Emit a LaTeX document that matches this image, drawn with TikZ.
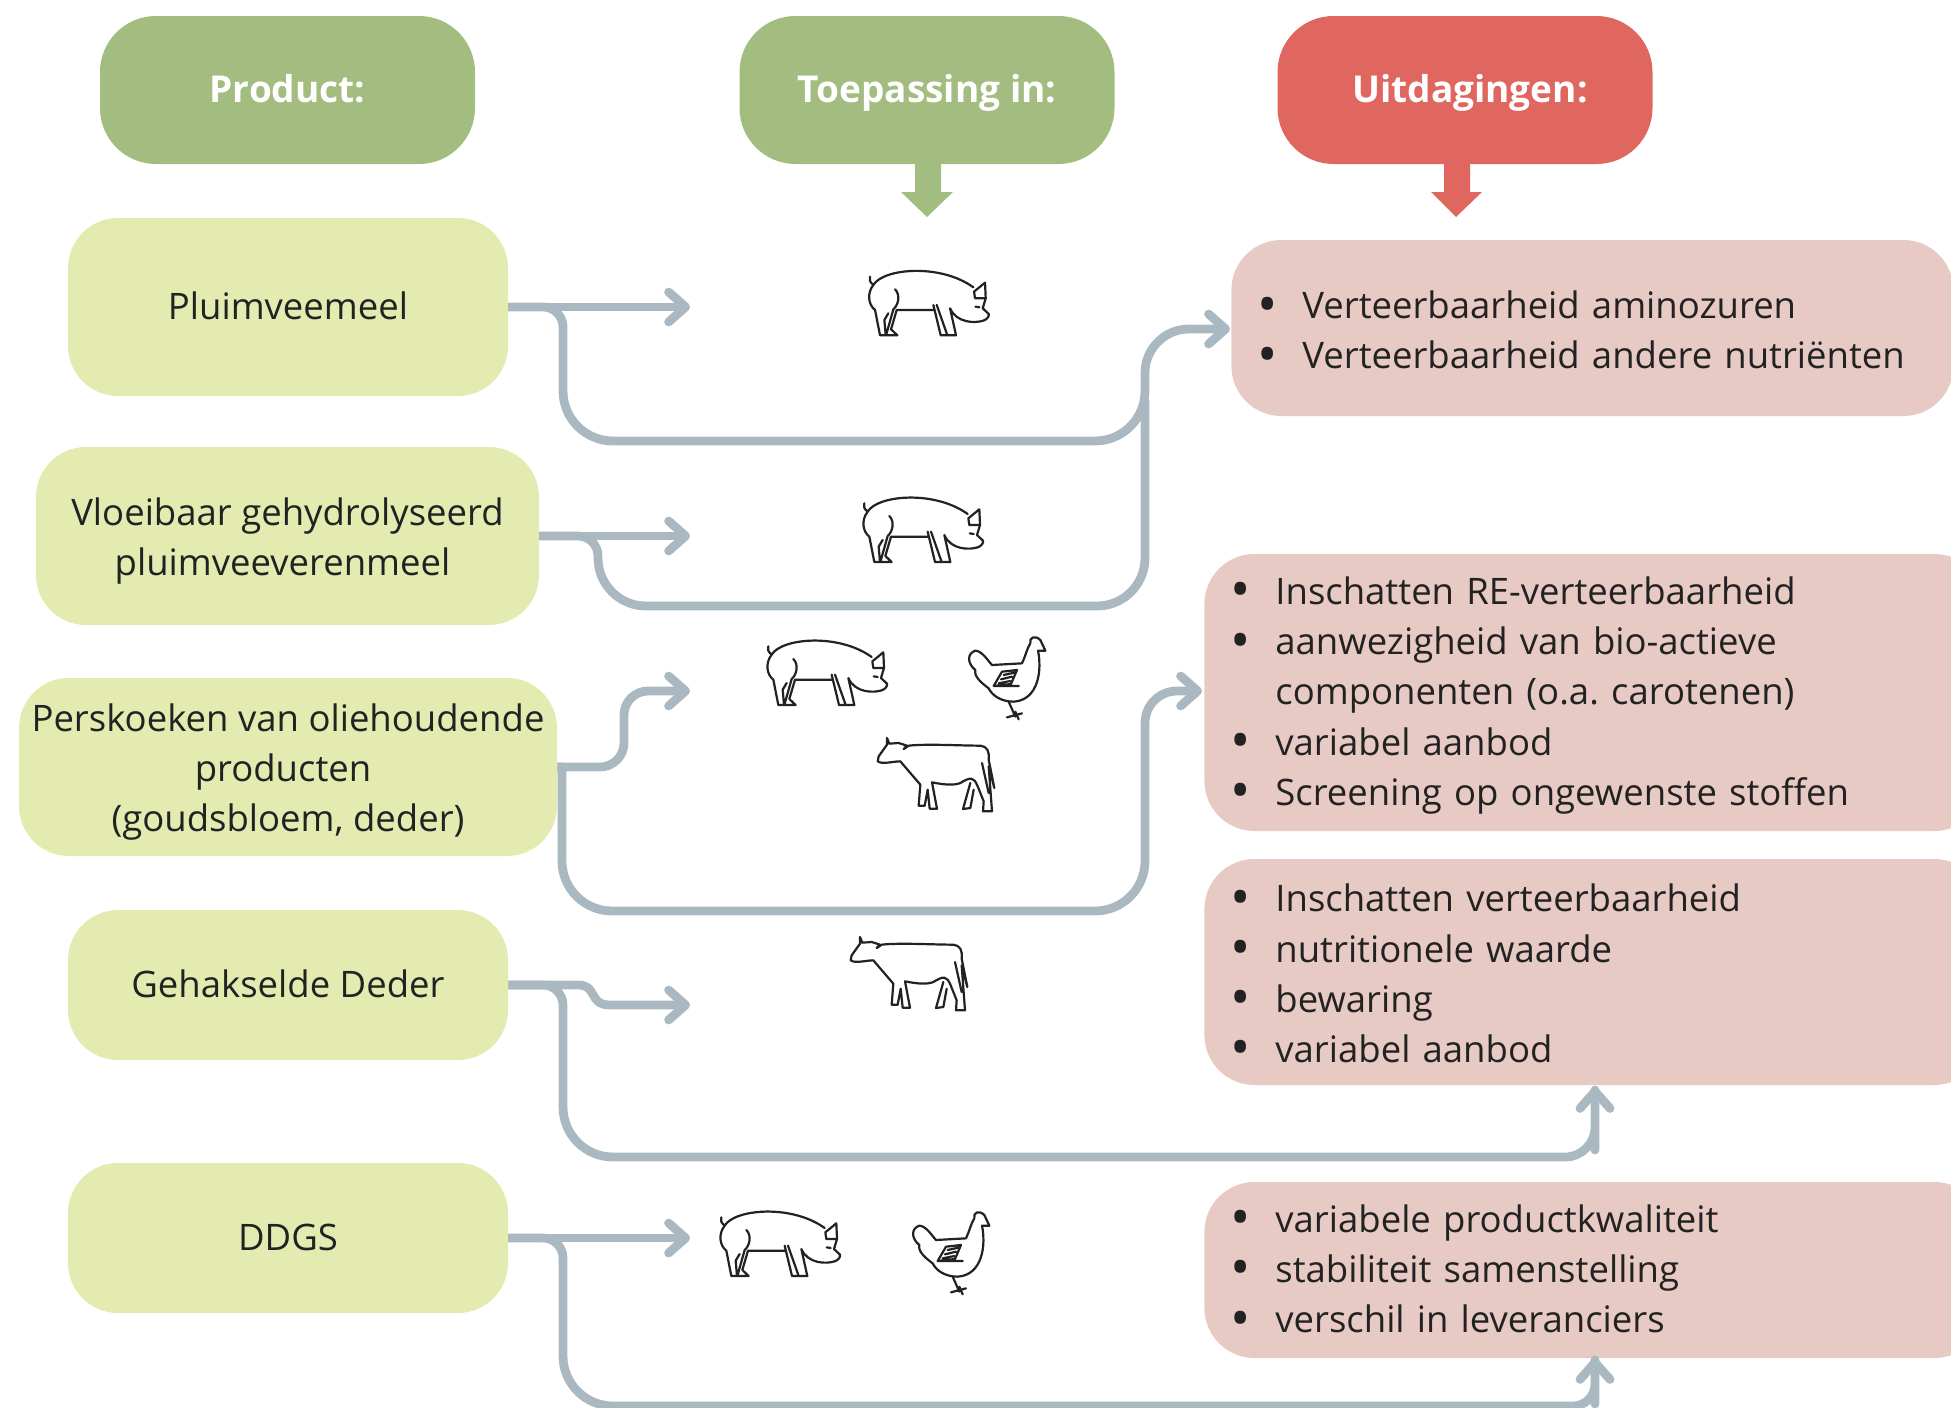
\documentclass[tikz,border=0pt]{standalone}
\usepackage{fontspec}
\setmainfont{Open Sans}
\usetikzlibrary{arrows.meta}
\definecolor{hgreen}{HTML}{A3BC80}
\definecolor{hred}{HTML}{E0675F}
\definecolor{lgreen}{HTML}{E4EBB0}
\definecolor{lred}{HTML}{E8CAC5}
\definecolor{conncol}{HTML}{A9B8C1}
\definecolor{inkcol}{HTML}{222222}
\newcommand{\mystrut}{\rule[-6.3pt]{0pt}{25pt}}
\newcommand{\bul}{\makebox[25.5pt][l]{\makebox[16pt][c]{\fontsize{27}{25}\selectfont\raisebox{-2.2pt}{\textbullet}}}}
\newcommand{\bulgap}{\hspace*{25.5pt}}
\tikzset{
  txt/.style={execute at begin node=\mystrut,execute at end node=\mystrut},
  hdr/.style={txt,rounded corners=28pt,minimum width=187.5pt,minimum height=74pt,inner sep=0pt,text=white,
    font=\fontsize{18.5}{25.1}\selectfont\bfseries\frenchspacing,fill=#1},
  prod/.style={txt,rounded corners=25pt,fill=lgreen,inner sep=0pt,align=center,text=inkcol,
    font=\fontsize{18.25}{25.1}\selectfont\frenchspacing},
  chal/.style={txt,rounded corners=25pt,fill=lred,inner xsep=10pt,inner ysep=0pt,align=left,text=inkcol,anchor=west,
    font=\fontsize{18.25}{25.1}\selectfont\frenchspacing},
  conn/.style={draw=conncol,line width=4.4pt,line cap=butt,line join=round},
  arr/.style={conn,-{Straight Barb[length=8.5pt,width=15pt,line width=4.4pt,round]}},
  icon/.style={draw=inkcol,line width=1.1pt,line cap=round,line join=round,x=0.16667pt,y=-0.16667pt},
  pig/.pic={
    \begin{scope}[icon,shift={(-500,-115)}]
      \draw (520,165) .. controls (550,115) and (720,100) .. (820,172)
        (520,165) .. controls (508,155) and (508,150) .. (510,140)
        (520,165) .. controls (500,190) and (505,225) .. (525,240) -- (540,316) -- (592,316) -- (573,298) -- (590,240) -- (702,240)
        (700,225) -- (722,316) -- (768,316) -- (750,235)
        (710,225) -- (742,316)
        (750,235) .. controls (770,280) and (825,280) .. (850,272) .. controls (862,268) and (868,258) .. (866,252) -- (848,235) -- (857,205) -- (855,158) -- (822,185) -- (825,205) -- (857,205)
        (585,178) .. controls (602,195) and (595,225) .. (580,238) -- (558,316)
        (565,250) -- (553,270) -- (557,316)
        (826,230) -- (838,232);
    \end{scope}},
  hen/.pic={
    \begin{scope}[icon,shift={(-683,-48)}]
      \draw (870,70) .. controls (865,52) and (885,45) .. (900,60) -- (915,92) -- (893,92)
        .. controls (905,150) and (895,240) .. (820,245) .. controls (780,245) and (755,225) .. (745,205)
        .. controls (725,190) and (700,170) .. (705,150) .. controls (680,130) and (680,100) .. (705,92)
        .. controls (725,92) and (745,125) .. (755,135) -- (845,130) .. controls (855,110) and (860,85) .. (870,70)
        (805,245) -- (825,290) (800,292) -- (845,280) (825,275) -- (835,298)
        (760,198) -- (785,155) -- (830,150) -- (812,192) -- (760,198) -- (835,198)
        (782,178) -- (815,170) (775,190) -- (810,183) (790,165) -- (822,158);
    \end{scope}},
  cow/.pic={
    \begin{scope}[icon,shift={(-410,-355)}]
      \draw (440,355) -- (447,372) -- (475,370) -- (500,378) -- (490,388) -- (505,378)
        .. controls (560,372) and (660,378) .. (720,378) .. controls (740,380) and (748,395) .. (745,420)
        -- (762,505) -- (745,440) -- (755,575) -- (728,575) -- (730,545) -- (712,500)
        .. controls (700,470) and (690,472) .. (660,490) .. controls (640,498) and (610,495) .. (575,488)
        -- (590,567) -- (568,567) -- (562,510) -- (553,558) -- (535,558) -- (540,495)
        -- (480,425) .. controls (460,425) and (425,435) .. (412,425) -- (415,410) -- (440,375) -- (440,355)
        (725,430) -- (745,520) (690,490) -- (668,568) -- (690,565) -- (700,510);
    \end{scope}}
}
\begin{document}
\begin{tikzpicture}[x=0.5pt,y=-0.5pt]
\useasboundingbox (0,0) rectangle (1951,1408);
\clip (0,0) rectangle (1951,1408);

% block arrows
\fill[hgreen] (915,164) -- (941,164) -- (941,192) -- (953,192) -- (927,217) -- (901,192) -- (915,192) -- cycle;
\fill[hred] (1444,164) -- (1470,164) -- (1470,192) -- (1482,192) -- (1456,217) -- (1431,192) -- (1444,192) -- cycle;

% headers
\node[hdr=hgreen] (hprod) at (287.5,90) {Product:};
\node[hdr=hgreen] (htoep) at (927,90) {Toepassing in:};
\node[hdr=hred] (huit) at (1465,90) {\hspace*{5pt}Uitdagingen:};

% products
\node[prod,minimum width=220pt,minimum height=89pt] (l1) at (288,307) {Pluimveemeel};
\node[prod,minimum width=251.5pt,minimum height=89pt] (l2) at (287.5,536) {\rule{0pt}{20.5pt}Vloeibaar gehydrolyseerd\\\hspace*{-5pt}pluimveeverenmeel};
\node[prod,minimum width=269pt,minimum height=89pt] (l3) at (288,767) {\rule{0pt}{20.5pt}Perskoeken van oliehoudende\\\hspace*{-5pt}producten\\(goudsbloem, deder)};
\node[prod,minimum width=220pt,minimum height=75pt] (l4) at (288,985) {Gehakselde Deder};
\node[prod,minimum width=220pt,minimum height=75pt] (l5) at (288,1238) {DDGS};

% challenges
\node[chal,text width=341pt,minimum height=88pt] (r1) at (1231,328)
  {\rule{0pt}{22pt}\bul Verteerbaarheid aminozuren\\\bul Verteerbaarheid andere nutriënten};
\node[chal,text width=370pt,minimum height=138.5pt] (r2) at (1204,692.5)
  {\bul Inschatten RE-verteerbaarheid\\\bul aanwezigheid van bio-actieve\\\bulgap componenten (o.a. carotenen)\\\bul variabel aanbod\\\bul Screening op ongewenste stoffen};
\node[chal,text width=370pt,minimum height=113pt] (r3) at (1204,972)
  {\rule{0pt}{21.5pt}\bul Inschatten verteerbaarheid\\\bul nutritionele waarde\\\bul bewaring\\\bul variabel aanbod};
\node[chal,text width=370pt,minimum height=88pt] (r4) at (1204,1270)
  {\bul variabele productkwaliteit\\\bul stabiliteit samenstelling\\\bul verschil in leveranciers};

% connector ends
\coordinate (t1) at (690,307);
\coordinate (t2) at (690,536);
\coordinate (t3) at (690,691);
\coordinate (t4) at (690,1005);
\coordinate (t5) at (690,1238);
\coordinate (e1) at (1230,329);
\coordinate (e2) at (1202,691);
\coordinate (e3) at (1595,1087);
\coordinate (e4) at (1595,1358);
\coordinate (m1) at (1145,400);

% connectors
\draw[arr] (l1.east) -- (t1);
\draw[arr,rounded corners=10pt] (l1.east) -- (563,307) [rounded corners=25pt] -- (563,441) -- (1145,441) [rounded corners=22pt] -- (1145,329) -- (e1);
\draw[arr] (l2.east) -- (t2);
\draw[conn,rounded corners=10pt] (l2.east) -- (598,536) [rounded corners=24pt] -- (598,606) -- (1145,606) -- (m1);
\draw[arr,rounded corners=12pt] (l3.east) -- (624,767) -- (624,691) -- (t3);
\draw[arr,sharp corners] (l3.east) -- (562,767) [rounded corners=25pt] -- (562,911) -- (1145,911) [rounded corners=16pt] -- (1145,691) -- (e2);
\draw[arr] (l4.east) -- (578,985) .. controls (598,985) and (588,1005) .. (610,1005) -- (t4);
\draw[arr,rounded corners=10pt] (l4.east) -- (563,985) [rounded corners=25pt] -- (563,1157) [rounded corners=15pt] -- (1595,1157) -- (1595,1120) -- (e3);
\draw[arr] (l5.east) -- (t5);
\draw[arr,rounded corners=10pt] (l5.east) -- (563,1238) [rounded corners=25pt] -- (563,1406) [rounded corners=11pt] -- (1595,1406) -- (1595,1382) -- (e4);

% animals
\pic at (866.7,268.3) {pig};
\pic at (861,495) {pig};
\pic at (765,638) {pig};
\pic at (718,1209) {pig};
\pic at (968,636) {hen};
\pic at (912,1211) {hen};
\pic at (877,738) {cow};
\pic at (850,937) {cow};
\end{tikzpicture}
\end{document}
